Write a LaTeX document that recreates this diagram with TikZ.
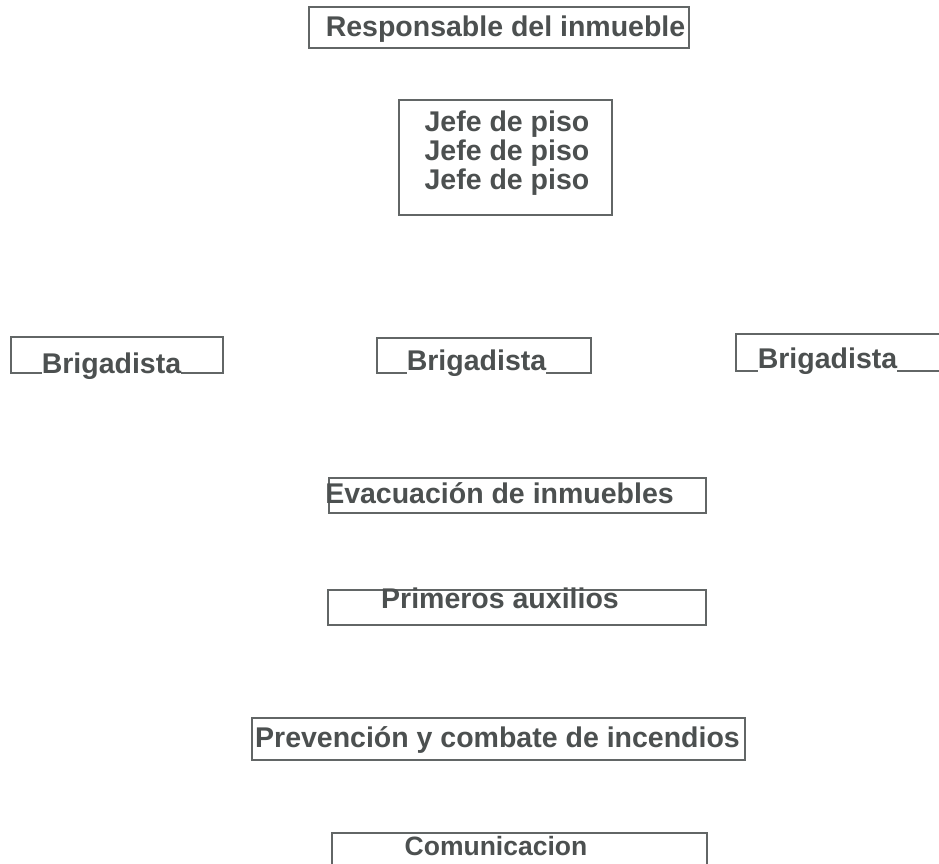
\documentclass[tikz,border=0pt]{standalone}
\usepackage{fontspec}
\setmainfont{Liberation Sans}
\definecolor{ink}{HTML}{4C5050}
\definecolor{edge}{HTML}{626666}
\begin{document}
\begin{tikzpicture}[x=1pt,y=-1pt,
  boxst/.style={draw=edge,line width=1.8pt,rectangle,inner sep=0pt},
  txt/.style={text=ink,font=\fontsize{28.5}{29}\selectfont\bfseries,inner sep=0pt,anchor=base},
  txtw/.style={txt,fill=white}]
\clip (0,0) rectangle (939,863);
\fill[white] (0,0) rectangle (939,863);
% boxes
\node[boxst,minimum width=380pt,minimum height=41pt] (rbox) at (499,27.5) {};
\node[boxst,minimum width=213pt,minimum height=115pt] (jbox) at (505.5,157.5) {};
\node[boxst,minimum width=212pt,minimum height=36pt] (b1box) at (117,355) {};
\node[boxst,minimum width=214pt,minimum height=35pt] (b2box) at (484,355.5) {};
\node[boxst,minimum width=214pt,minimum height=37pt] (b3box) at (843,352.5) {};
\node[boxst,minimum width=377pt,minimum height=35pt] (ebox) at (517.5,495.5) {};
\node[boxst,minimum width=378pt,minimum height=35pt] (pbox) at (517,607.5) {};
\node[boxst,minimum width=493pt,minimum height=42pt] (prbox) at (498.5,739) {};
\node[boxst,minimum width=375pt,minimum height=36pt] (cbox) at (519.5,851) {};
% texts
\node[txt] (rt) at (505.5,36) {Responsable del inmueble};
\node[txt] (j1) at (507,131) {Jefe de piso};
\node[txt] (j2) at (507,160) {Jefe de piso};
\node[txt] (j3) at (507,189) {Jefe de piso};
\node[txtw] (b1t) at (111.5,373) {Brigadista};
\node[txtw] (b2t) at (476.5,370) {Brigadista};
\node[txtw] (b3t) at (827.5,368) {Brigadista};
\node[txt] (et) at (499.5,503) {Evacuación de inmuebles};
\node[txt] (pt) at (500,608) {Primeros auxilios};
\node[txt] (prt) at (497.5,747) {Prevención y combate de incendios};
\node[txt,font=\fontsize{26.5}{28}\selectfont\bfseries] (ct) at (496,855) {Comunicacion};
\end{tikzpicture}
\end{document}
